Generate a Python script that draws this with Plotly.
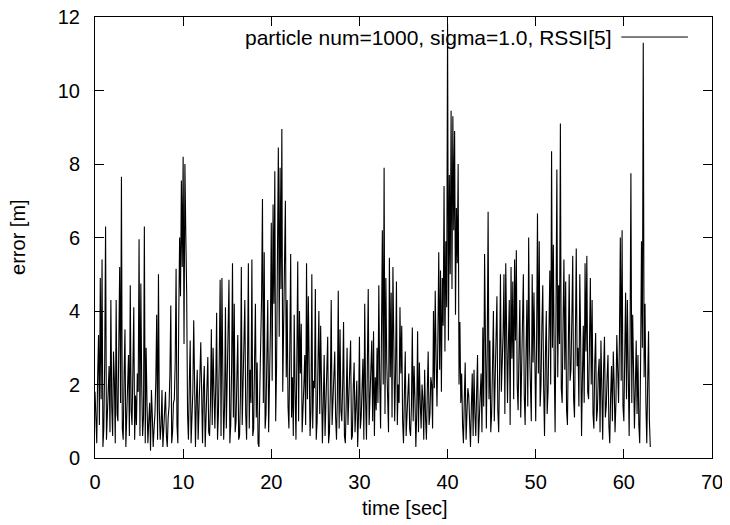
import numpy as np
import plotly.graph_objects as go

# sampling step of the recorded error series [sec]
dt = 0.1

# error [m], one value per dt starting at t = 0
error_m = [
    1.8, 1.1, 0.4, 2.2, 3.35, 0.9, 4.9, 1.6, 5.4, 0.3, 0.8, 2.6, 6.3, 0.5, 1.2, 1.9, 2.5, 0.7, 4.3, 1.4,
    0.6, 2.9, 2.1, 0.4, 4.3, 1.2, 1.0, 3.1, 5.2, 1.5, 7.65, 0.8, 0.5, 2.2, 3.5, 0.3, 1.4, 1.7, 2.8, 0.6,
    4.7, 1.3, 0.9, 2.4, 4.1, 0.5, 1.7, 0.9, 2.3, 1.8, 5.95, 0.6, 4.75, 2.0, 0.6, 1.1, 6.3, 0.4, 3.0, 1.5,
    0.4, 1.0, 1.5, 0.2, 1.85, 1.2, 0.3, 0.8, 1.2, 2.1, 3.9, 0.5, 5.0, 1.3, 0.5, 0.9, 1.85, 0.3, 0.8, 1.4,
    1.8, 0.6, 0.3, 1.1, 1.4, 2.3, 4.15, 0.4, 0.7, 1.5, 1.6, 2.6, 5.15, 0.9, 0.4, 3.8, 6.0, 4.4, 7.55, 5.2,
    8.2, 3.1, 8.0, 6.1, 4.5, 1.2, 0.5, 2.0, 3.2, 0.4, 1.0, 1.8, 3.75, 0.9, 0.3, 1.6, 2.4, 0.5, 1.1, 2.2,
    3.15, 1.0, 0.4, 1.9, 2.5, 0.3, 1.3, 2.2, 2.75, 0.7, 0.6, 1.5, 3.5, 0.9, 3.0, 1.8, 0.8, 2.0, 3.95, 0.5,
    1.2, 2.7, 4.85, 0.6, 4.9, 2.3, 0.5, 1.4, 4.1, 0.8, 1.9, 3.0, 4.85, 0.4, 0.9, 2.5, 5.3, 1.1, 4.2, 0.7,
    1.0, 2.2, 3.35, 0.5, 0.6, 1.7, 5.2, 0.9, 2.0, 3.3, 4.3, 1.2, 0.5, 2.4, 5.3, 0.8, 2.4, 1.5, 5.4, 0.6,
    0.8, 2.6, 4.2, 1.1, 2.6, 0.4, 0.3, 1.9, 3.0, 4.4, 7.05, 1.5, 5.6, 0.8, 1.2, 2.9, 4.3, 0.7, 2.0, 3.5,
    6.4, 2.1, 6.9, 4.2, 7.8, 1.0, 2.5, 5.1, 8.45, 3.3, 7.9, 4.6, 8.95, 1.8, 3.5, 5.5, 7.0, 2.2, 4.3, 1.4,
    0.8, 3.0, 5.55, 1.1, 2.2, 0.6, 3.9, 1.8, 0.5, 2.7, 5.35, 1.0, 4.0, 2.3, 3.65, 0.7, 1.2, 2.0, 2.8, 0.9,
    5.3, 1.6, 4.4, 2.5, 0.6, 1.3, 5.0, 0.8, 2.1, 1.9, 4.6, 0.5, 1.0, 2.6, 4.0, 1.2, 3.6, 2.0, 0.4, 1.5,
    2.8, 0.6, 1.5, 2.1, 3.3, 0.4, 0.7, 1.8, 4.3, 0.9, 1.6, 2.4, 2.9, 1.1, 0.5, 1.7, 4.55, 0.8, 3.5, 1.3,
    1.0, 2.0, 3.7, 0.6, 0.4, 1.5, 3.0, 0.9, 1.8, 2.3, 3.2, 0.5, 0.6, 1.9, 2.6, 0.7, 1.4, 2.1, 0.3, 1.2,
    3.3, 0.8, 1.1, 1.9, 2.7, 0.5, 4.2, 1.6, 0.5, 2.5, 4.6, 0.9, 1.6, 2.2, 3.2, 1.0, 3.45, 0.6, 2.2, 1.3,
    3.0, 1.5, 4.7, 2.1, 0.8, 3.3, 6.2, 2.0, 7.9, 1.2, 4.9, 2.6, 1.4, 0.7, 5.45, 2.2, 4.5, 1.1, 5.2, 2.8,
    1.0, 2.4, 4.8, 0.9, 2.0, 1.5, 4.1, 2.3, 3.6, 1.0, 0.4, 1.7, 2.9, 0.6, 1.2, 2.0, 2.3, 0.8, 0.6, 1.4,
    3.55, 1.0, 2.5, 1.6, 0.3, 1.2, 3.45, 0.7, 2.6, 1.5, 0.8, 2.0, 1.6, 0.5, 2.4, 1.1, 0.5, 1.8, 2.9, 0.9,
    1.2, 2.2, 2.0, 0.8, 4.0, 1.9, 4.55, 2.7, 1.4, 3.3, 5.6, 2.4, 5.1, 1.8, 4.9, 3.6, 7.4, 2.9, 5.9, 4.1,
    11.8, 3.2, 7.7, 5.0, 9.45, 4.6, 9.3, 6.2, 8.9, 3.9, 6.8, 5.3, 8.0, 2.0, 3.7, 1.5, 2.3, 0.9, 0.4, 1.6,
    2.6, 0.5, 1.0, 1.9, 1.7, 0.8, 0.3, 1.4, 2.3, 0.6, 2.4, 1.2, 0.6, 1.8, 2.8, 0.4, 1.3, 1.7, 2.3, 0.7,
    3.55, 1.4, 5.55, 2.1, 0.8, 3.0, 6.7, 1.6, 3.2, 0.7, 1.2, 2.5, 4.0, 1.0, 2.4, 3.1, 4.4, 1.3, 0.7, 2.4,
    5.0, 1.8, 2.6, 3.4, 5.0, 1.2, 5.3, 2.6, 1.5, 3.1, 4.3, 0.9, 5.2, 2.7, 4.8, 1.6, 5.4, 3.2, 5.65, 2.0,
    1.3, 2.9, 4.3, 1.1, 2.5, 3.5, 5.0, 1.7, 0.9, 2.8, 4.3, 1.4, 6.0, 3.0, 2.2, 1.0, 5.0, 2.6, 4.5, 1.9,
    1.0, 3.2, 6.65, 2.3, 5.9, 1.4, 2.0, 3.6, 4.7, 1.9, 0.6, 2.8, 4.0, 1.2, 1.8, 3.4, 5.1, 2.0, 8.35, 3.0,
    5.8, 2.5, 0.7, 3.9, 7.85, 2.2, 4.7, 3.1, 9.1, 1.9, 1.5, 3.6, 5.4, 2.4, 4.8, 1.3, 0.9, 3.0, 5.0, 2.1,
    2.4, 3.8, 5.5, 1.6, 1.1, 3.3, 5.7, 2.5, 3.0, 1.4, 5.0, 3.2, 0.6, 2.2, 3.6, 1.5, 5.3, 2.9, 5.5, 1.8,
    1.6, 3.1, 4.9, 2.0, 4.3, 1.2, 0.8, 2.6, 3.4, 1.0, 1.3, 2.3, 2.7, 0.7, 3.2, 1.9, 0.5, 2.4, 3.3, 1.1,
    1.4, 2.2, 2.8, 0.9, 0.4, 1.7, 2.5, 1.0, 2.9, 2.0, 0.7, 1.5, 3.35, 2.4, 1.5, 3.3, 6.0, 2.1, 6.2, 1.4,
    1.0, 2.8, 4.5, 1.6, 4.3, 2.3, 0.6, 3.1, 7.75, 1.5, 3.9, 2.4, 0.8, 1.9, 3.2, 1.2, 2.8, 0.9, 0.4, 2.6,
    5.9, 3.0, 11.3, 2.2, 4.2, 1.5, 0.4, 2.0, 3.45, 1.0, 0.3,
]

time_s = np.arange(len(error_m)) * dt

x_ticks = [0, 10, 20, 30, 40, 50, 60, 70]
y_ticks = [0, 2, 4, 6, 8, 10, 12]
legend_label = "particle num=1000, sigma=1.0, RSSI[5]"

FONT = "Liberation Sans, Arial, sans-serif"

fig = go.Figure()
fig.add_trace(go.Scatter(
    x=time_s, y=error_m, mode="lines",
    line=dict(color="black", width=1.1),
    showlegend=False, hoverinfo="skip",
))

axis_common = dict(
    showgrid=False, zeroline=False, automargin=False,
    showline=True, linecolor="black", linewidth=1, mirror="ticks",
    ticks="inside", ticklen=9, tickwidth=1, tickcolor="black",
    ticklabeloverflow="allow",
    tickfont=dict(family=FONT, size=20, color="black"),
)

# the page body adds an 8px offset, so the figure is 8px smaller with 8px less margin
fig.update_layout(
    width=722, height=517,
    margin=dict(l=87, r=18, t=9, b=67, autoexpand=False),
    paper_bgcolor="white", plot_bgcolor="white",
    xaxis=dict(range=[0, 70], tickvals=x_ticks, ticktext=[str(v) for v in x_ticks],
               ticklabelstandoff=6, **axis_common),
    yaxis=dict(range=[0, 12], tickvals=y_ticks, ticktext=[str(v) for v in y_ticks],
               ticklabelstandoff=10, **axis_common),
    font=dict(family=FONT, size=20, color="black"),
)

# axis titles
fig.add_annotation(text="time [sec]", xref="paper", yref="paper",
                   x=0.503, y=-0.113, xanchor="center", yanchor="middle",
                   showarrow=False, font=dict(family=FONT, size=20, color="black"))
fig.add_annotation(text="error [m]", xref="paper", yref="paper",
                   x=-0.125, y=0.501, xanchor="center", yanchor="middle",
                   textangle=-90, showarrow=False,
                   font=dict(family=FONT, size=20, color="black"))

# gnuplot-style key: text then line sample, top right
fig.add_annotation(text=legend_label, xref="paper", yref="paper",
                   x=0.841, y=0.9546, xanchor="right", yanchor="middle",
                   showarrow=False, font=dict(family=FONT, size=21, color="black"))
fig.add_shape(type="line", xref="paper", yref="paper",
              x0=0.853, x1=0.961, y0=0.9546, y1=0.9546,
              line=dict(color="black", width=1))

fig.write_html("out.html")
